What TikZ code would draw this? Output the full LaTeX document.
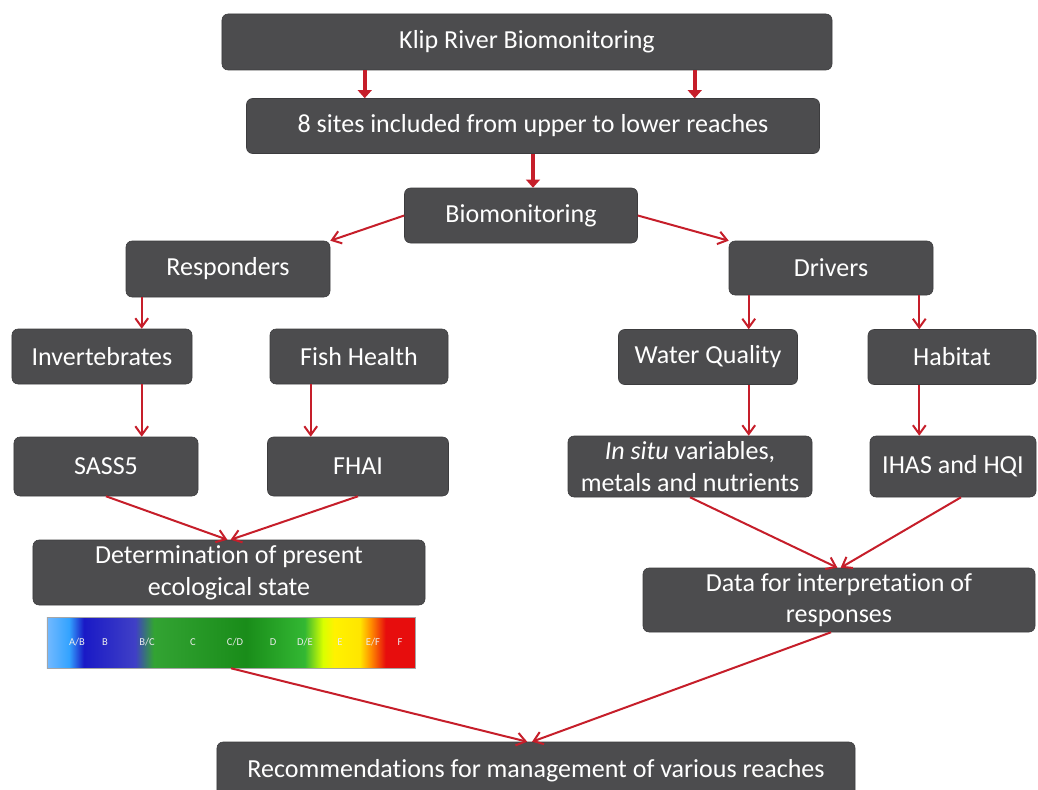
\documentclass[tikz,border=0pt]{standalone}
\usepackage{fontspec}
\setmainfont{Carlito}[Ligatures=NoCommon]
\usetikzlibrary{arrows.meta,calc}

\definecolor{boxgray}{RGB}{76,76,78}
\definecolor{boxedge}{RGB}{60,60,62}
\definecolor{linkred}{RGB}{198,30,42}

% ecological category scale, A (left) to F (right)
\pgfdeclarehorizontalshading{ecoscale}{100bp}{
  color(0bp)=(cyan!50!blue!55!white); color(25bp)=(cyan!50!blue!55!white);
  color(28bp)=(blue!45!cyan!80!white); color(30bp)=(blue!75!black!90!white);
  color(37bp)=(blue!70!black!75!white); color(39.5bp)=(green!55!black!80!white);
  color(52bp)=(green!50!black!90!white); color(60bp)=(green!65!black!80!white);
  color(62.5bp)=(yellow!85!green); color(64bp)=(yellow!95!red);
  color(67.5bp)=(yellow!90!red); color(69bp)=(orange!90!yellow);
  color(71bp)=(red!90!black!95!white); color(75bp)=(red!90!black!95!white);
  color(100bp)=(red!90!black!95!white)}

\begin{document}
\begin{tikzpicture}[x=0.25mm,y=-0.25mm,
  box/.style={draw=boxedge,fill=boxgray,rounded corners=1.5mm,text=white,inner sep=0pt,
    align=center,font=\fontsize{18.5}{22.5}\selectfont},
  dims/.style 2 args={minimum width=#1mm,minimum height=#2mm},
  flow/.style={draw=linkred,line width=0.5mm,-{Straight Barb[length=2.2mm,width=3.2mm]}},
  bigflow/.style={draw=linkred,line width=1mm,-{Triangle[length=2mm,width=3.4mm]}}]

\useasboundingbox (0,0) rectangle (1038,789);
\clip (0,0) rectangle (1038,789);
\fill[white] (0,0) rectangle (1038,789);

% top of the scheme
\node[box,dims={152.5}{14}] (top) at (527,42) {Klip River Biomonitoring};
\node[box,dims={143.25}{13.75}] (sites) at (533,126) {8 sites included from upper to lower reaches};
\node[box,dims={58.25}{13.75}] (bio) at (521,215.5) {Biomonitoring};

% responders and drivers
\node[box,dims={51}{14}] (resp) at (228,269) {Responders};
\node[box,dims={51}{13.5}] (driv) at (831,268) {Drivers};

\node[box,dims={45}{13.75}] (inv) at (102,356.5) {Invertebrates};
\node[box,dims={44.5}{13.75}] (fish) at (359,356.5) {Fish Health};
\node[box,dims={44.75}{13.75}] (wq) at (708,357) {Water Quality};
\node[box,dims={42}{13.75}] (hab) at (952,357) {Habitat};

\node[box,dims={46}{14.75}] (sass) at (106,466.5) {SASS5};
\node[box,dims={45.25}{14.75}] (fhai) at (358,466.5) {FHAI};
\node[box,dims={61}{15.25}] (insitu) at (690,466.5) {\textit{In situ} variables,\\metals and nutrients};
\node[box,dims={41.5}{15.25}] (ihas) at (953,466.5) {IHAS and HQI};

\node[box,dims={98}{16.25}] (det) at (229,572.5) {Determination of present\\ecological state};
\node[box,dims={98}{16}] (data) at (839,600) {Data for interpretation of\\responses};

% colour bar with the categories
\node[draw=gray!70,shading=ecoscale,inner sep=0pt,dims={92}{12.75}] (bar) at (231,642.5) {};
\foreach \x/\g [count=\i] in {77/{A/B},105/B,147/{B/C},193/C,235/{C/D},273/D,305/{D/E},340/E,373/{E/F},400/F}
  \node[text=white!85!gray,font=\fontsize{7.5}{8}\selectfont] (cat\i) at (\x,642) {\g};

\node[box,dims={159.5}{14.5}] (rec) at (536,771) {Recommendations for management of various reaches};

% connectors
\coordinate (t1) at ($(top.south west)+(143,0)$);
\coordinate (t2) at ($(top.south west)+(473,0)$);
\draw[bigflow] (t1) -- (t1 |- sites.north);
\draw[bigflow] (t2) -- (t2 |- sites.north);
\draw[bigflow] (sites.south) -- (sites.south |- bio.north);

\draw[flow] (bio.west) -- (resp.north east);
\draw[flow] (bio.east) -- (driv.north west);

\coordinate (r1) at ($(resp.south west)+(16,0)$);
\coordinate (f1) at ($(fish.south west)+(41,0)$);
\coordinate (d1) at ($(driv.south west)+(20,0)$);
\coordinate (d2) at ($(driv.south east)+(-14,0)$);
\draw[flow] (r1) -- (r1 |- inv.north);
\draw[flow] (d1) -- (d1 |- wq.north);
\draw[flow] (d2) -- (d2 |- hab.north);
\draw[flow] (r1 |- inv.south) -- (r1 |- sass.north);
\draw[flow] (f1) -- (f1 |- fhai.north);
\draw[flow] (d1 |- wq.south) -- (d1 |- insitu.north);
\draw[flow] (d2 |- hab.south) -- (d2 |- ihas.north);

\draw[flow] (sass.south) -- ([xshift=-0.4mm]det.north);
\draw[flow] (fhai.south) -- ([xshift=0.4mm]det.north);
\draw[flow] (insitu.south) -- ([xshift=-0.4mm]data.north);
\draw[flow] ([xshift=2mm]ihas.south) -- ([xshift=0.4mm]data.north);
\draw[flow] (bar.south) -- ([xshift=-2.2mm]rec.north);
\draw[flow] ([xshift=-2mm]data.south) -- ([xshift=-1mm]rec.north);

\end{tikzpicture}
\end{document}
